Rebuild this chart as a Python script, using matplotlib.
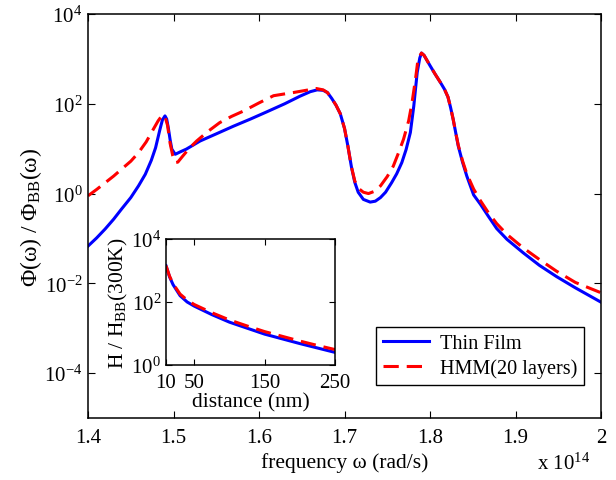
import numpy as np
import matplotlib
matplotlib.use('Agg')
import matplotlib.pyplot as plt

plt.rcParams['font.family'] = ['Liberation Serif', 'DejaVu Serif']
plt.rcParams['mathtext.fontset'] = 'custom'
plt.rcParams['mathtext.rm'] = 'Liberation Serif'
plt.rcParams['mathtext.it'] = 'Liberation Serif:italic'
plt.rcParams['font.size'] = 15

# ---- main panel: frequency (x 1e14 rad/s) and log10 of Phi/Phi_BB
thin_freq = [1.400, 1.410, 1.420, 1.430, 1.439, 1.450, 1.459, 1.467, 1.474, 1.479,
             1.484, 1.487, 1.490, 1.492, 1.494, 1.496, 1.498, 1.502, 1.508, 1.515,
             1.531, 1.550, 1.570, 1.590, 1.609, 1.630, 1.648, 1.660, 1.668, 1.675,
             1.680, 1.685, 1.690, 1.695, 1.700, 1.704, 1.708, 1.712, 1.716, 1.722,
             1.730, 1.736, 1.742, 1.748, 1.755, 1.761, 1.767, 1.772, 1.777, 1.781,
             1.785, 1.788, 1.790, 1.793, 1.800, 1.806, 1.812, 1.817, 1.821, 1.824,
             1.827, 1.830, 1.833, 1.838, 1.843, 1.851, 1.859, 1.868, 1.878, 1.890,
             1.909, 1.928, 1.948, 1.970, 2.000]
thin_log = [-1.17, -0.99, -0.79, -0.57, -0.35, -0.09, 0.17, 0.43, 0.74, 1.02,
            1.42, 1.64, 1.73, 1.66, 1.45, 1.20, 0.99, 0.875, 0.93, 0.99,
            1.17, 1.33, 1.50, 1.66, 1.82, 2.00, 2.17, 2.27, 2.31, 2.30,
            2.25, 2.12, 1.97, 1.78, 1.45, 1.05, 0.60, 0.25, 0.03, -0.13,
            -0.19, -0.17, -0.09, 0.03, 0.24, 0.44, 0.69, 0.98, 1.36, 1.95,
            2.70, 3.02, 3.13, 3.08, 2.85, 2.66, 2.48, 2.32, 2.15, 1.92,
            1.66, 1.36, 1.06, 0.70, 0.39, -0.03, -0.24, -0.50, -0.78, -1.02,
            -1.32, -1.60, -1.85, -2.10, -2.42]

hmm_freq = [1.400, 1.410, 1.420, 1.430, 1.439, 1.450, 1.459, 1.468, 1.476, 1.482,
            1.487, 1.490, 1.493, 1.496, 1.499, 1.502, 1.505, 1.511, 1.519, 1.527,
            1.540, 1.554, 1.568, 1.582, 1.600, 1.617, 1.630, 1.640, 1.655, 1.667,
            1.675, 1.680, 1.685, 1.690, 1.695, 1.700, 1.704, 1.708, 1.712, 1.716,
            1.722, 1.728, 1.735, 1.742, 1.750, 1.757, 1.763, 1.769, 1.775, 1.779,
            1.783, 1.786, 1.790, 1.793, 1.800, 1.806, 1.812, 1.817, 1.821, 1.824,
            1.827, 1.830, 1.833, 1.838, 1.843, 1.851, 1.859, 1.868, 1.878, 1.890,
            1.909, 1.928, 1.948, 1.970, 2.000]
hmm_log = [-0.05, 0.09, 0.24, 0.39, 0.54, 0.72, 0.91, 1.15, 1.42, 1.62,
           1.75, 1.72, 1.52, 1.12, 0.85, 0.69, 0.70, 0.84, 1.02, 1.17,
           1.38, 1.58, 1.72, 1.84, 2.02, 2.18, 2.22, 2.25, 2.30, 2.34,
           2.31, 2.25, 2.12, 1.97, 1.78, 1.45, 1.05, 0.60, 0.28, 0.12,
           0.03, 0.00, 0.05, 0.17, 0.38, 0.61, 0.90, 1.21, 1.62, 2.03,
           2.55, 3.00, 3.13, 3.08, 2.85, 2.66, 2.48, 2.32, 2.15, 1.92,
           1.66, 1.36, 1.08, 0.73, 0.44, 0.10, -0.16, -0.42, -0.67, -0.91,
           -1.21, -1.47, -1.73, -1.98, -2.21]

# ---- inset: distance (nm) and log10 of H/H_BB(300K)
dist_nm = [10, 15, 20, 30, 40, 50, 75, 100, 125, 150, 175, 200, 225, 250]
thin_h_log = [3.15, 2.80, 2.55, 2.20, 2.00, 1.87, 1.60, 1.36, 1.17, 0.98, 0.83, 0.68, 0.54, 0.40]
hmm_h_log = [3.15, 2.82, 2.58, 2.25, 2.06, 1.92, 1.66, 1.43, 1.24, 1.06, 0.91, 0.76, 0.62, 0.49]

x_ticks = [1.4, 1.5, 1.6, 1.7, 1.8, 1.9, 2.0]
x_ticklabels = ['1.4', '1.5', '1.6', '1.7', '1.8', '1.9', '2']
y_ticks = [1e-4, 1e-2, 1e0, 1e2, 1e4]
inset_xticks = [10, 50, 150, 250]
inset_yticks = [1e0, 1e2, 1e4]

blue = '#0000ff'
red = '#ff0000'
dash = (5, 2.6)

fig = plt.figure(figsize=(6.16, 4.81), dpi=100)
ax = fig.add_axes([0.1429, 0.1289, 0.8328, 0.8399])

ax.semilogy(thin_freq, 10 ** np.array(thin_log), color=blue, lw=2.2, label='Thin Film')
ax.semilogy(hmm_freq, 10 ** np.array(hmm_log), color=red, lw=2.2, dashes=dash,
            label='HMM(20 layers)')

ax.set_xlim(1.4, 2.0)
ax.set_ylim(1e-5, 1e4)
ax.set_xticks(x_ticks)
ax.set_xticklabels(x_ticklabels)
ax.set_yticks(y_ticks)
ax.minorticks_off()
ax.tick_params(direction='in', top=True, right=True, length=5, width=0.8, labelsize=15)
ax.tick_params(axis='x', pad=7)
ax.tick_params(axis='y', pad=4)
for sp in ax.spines.values():
    sp.set_linewidth(1.1)

ax.set_xlabel('frequency ω (rad/s)', fontsize=15.5, labelpad=4)
ax.set_ylabel('Φ(ω) / Φ$_{\\mathrm{BB}}$(ω)', fontsize=17, labelpad=0)
fig.text(0.958, 0.035, 'x 10$^{14}$', ha='right', va='center', fontsize=15)

leg = ax.legend(loc='lower right', bbox_to_anchor=(0.967, 0.082), fontsize=14.6,
                fancybox=False, framealpha=1, edgecolor='black', handlelength=2.3,
                borderpad=0.35, labelspacing=0.25, handletextpad=0.5, borderaxespad=0)
leg.get_frame().set_linewidth(1.0)

# ---- inset
ins = fig.add_axes([0.2695, 0.2391, 0.2744, 0.262])
ins.semilogy(dist_nm, 10 ** np.array(thin_h_log), color=blue, lw=2.2)
ins.semilogy(dist_nm, 10 ** np.array(hmm_h_log), color=red, lw=2.2, dashes=dash)
ins.set_xlim(10, 250)
ins.set_ylim(1e0, 1e4)
ins.set_xticks(inset_xticks)
ins.set_yticks(inset_yticks)
ins.minorticks_off()
ins.tick_params(direction='in', top=True, right=True, length=4, width=0.8, labelsize=15)
ins.tick_params(axis='x', pad=6)
for sp in ins.spines.values():
    sp.set_linewidth(1.1)
ins.set_xlabel('distance (nm)', fontsize=15.5, labelpad=0)
ins.set_ylabel('H / H$_{\\mathrm{BB}}$(300K)', fontsize=15.5, labelpad=1)

fig.savefig('out.png', dpi=100)
